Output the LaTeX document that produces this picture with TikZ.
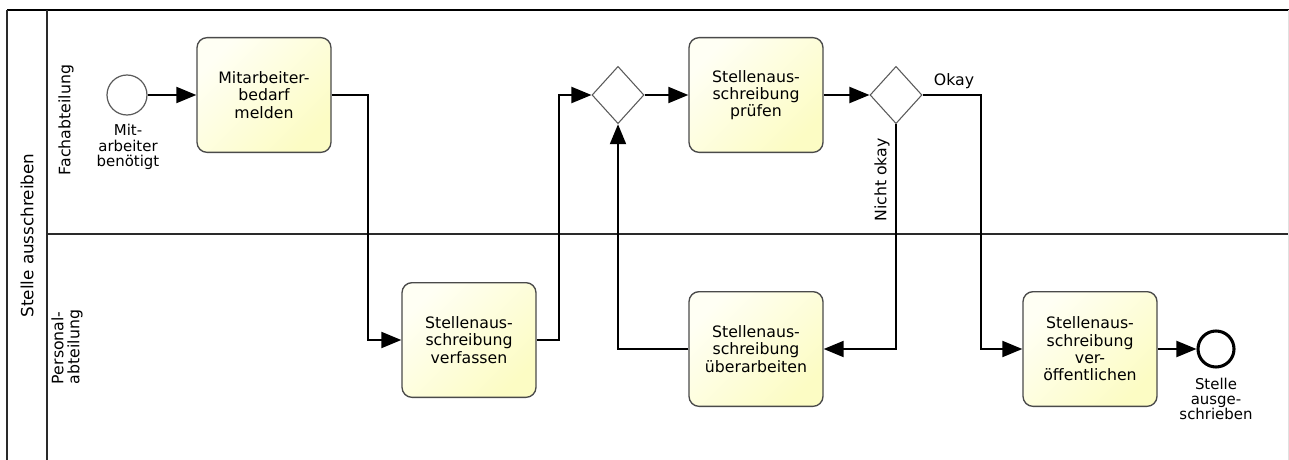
\documentclass[tikz,border=0pt]{standalone}
\usepackage{fontspec}
\setmainfont{DejaVu Sans}
\usetikzlibrary{arrows.meta,shapes.geometric}
\definecolor{taskline}{HTML}{4A4A4A}
\definecolor{tasklight}{HTML}{FFFFF4}
\definecolor{taskdark}{HTML}{FCFCC4}
\definecolor{gateline}{HTML}{5A5A5A}
\definecolor{poolline}{HTML}{2A2A2A}
\begin{document}
\begin{tikzpicture}[x=0.75pt,y=-0.75pt,
  task/.style={rectangle, rounded corners=7.5pt, draw=taskline, line width=1pt,
    top color=tasklight, bottom color=taskdark, shading angle=45,
    minimum width=100.5pt, minimum height=86pt, inner sep=0pt, align=center,
    font=\fontsize{11.8}{13}\selectfont},
  gateway/.style={diamond, draw=gateline, line width=0.8pt, fill=white,
    minimum width=39pt, minimum height=43pt, inner sep=0pt},
  startevent/.style={circle, draw=gateline, line width=0.9pt, fill=white,
    minimum size=30pt, inner sep=0pt},
  endevent/.style={circle, draw=black, line width=2.3pt, fill=white,
    minimum size=27pt, inner sep=0pt},
  evlabel/.style={align=center, font=\fontsize{11.2}{11.4}\selectfont, inner sep=0pt},
  lanelabel/.style={rotate=90, font=\fontsize{11.8}{12}\selectfont, inner sep=0pt},
  flow/.style={line width=1.5pt, -{Triangle[length=15pt,width=12pt]}},
  plain/.style={line width=1.5pt}]
\useasboundingbox (0,0) rectangle (1289,460);

% pool and lanes
\draw[line width=1.6pt, black] (7,10) -- (1289,10);
\draw[line width=1.1pt, poolline] (7,460) -- (7,10);
\draw[line width=1.1pt, poolline] (47,10) -- (47,460);
\draw[line width=1.5pt, poolline] (47,234) -- (1289,234);
\draw[line width=0.6pt, black!12] (1288,10) -- (1288,460);

\node[lanelabel, font=\fontsize{12.6}{13}\selectfont] (pool) at (27,235.5) {Stelle ausschreiben};
\node[lanelabel] (lane1) at (66,120) {Fachabteilung};
\node[lanelabel, align=left] (lane2) at (67,347) {Personal-\\abteilung};

% flow objects
\node[startevent] (start) at (127,95) {};
\node[evlabel] (startlbl) at (128,147) {Mit-\\arbeiter\\benötigt};
\node[task] (t1) at (264,95) {Mitarbeiter-\\bedarf\\melden};
\node[task] (t2) at (469,340) {Stellenaus-\\schreibung\\verfassen};
\node[gateway] (g1) at (618,95) {};
\node[task] (t3) at (756,95) {Stellenaus-\\schreibung\\prüfen};
\node[gateway] (g2) at (896,95) {};
\node[task] (t4) at (756,349) {Stellenaus-\\schreibung\\überarbeiten};
\node[task] (t5) at (1090,349) {Stellenaus-\\schreibung\\ver-\\öffentlichen};
\node[endevent] (end) at (1216,349) {};
\node[evlabel] (endlbl) at (1216,399) {Stelle\\ausge-\\schrieben};

% sequence flows
\draw[flow] (start) -- (t1);
\draw[flow] (t1.east) -- ++(36,0) |- (t2.west);
\draw[flow] (t2.east) -- ++(22,0) |- (g1.west);
\draw[flow] (g1) -- (t3);
\draw[flow] (t3) -- (g2);
\draw[flow] (g2.east) -- ++(58,0) |- (t5.west);
\draw[flow] (g2.south) |- (t4.east);
\draw[flow] (t4.west) -| (g1.south);
\draw[flow] (t5) -- (end);

% gateway conditions
\node[font=\fontsize{11.8}{12}\selectfont, inner sep=0pt] (okay) at (954,81) {Okay};
\node[lanelabel] (nokay) at (882,180) {Nicht okay};
\end{tikzpicture}
\end{document}
